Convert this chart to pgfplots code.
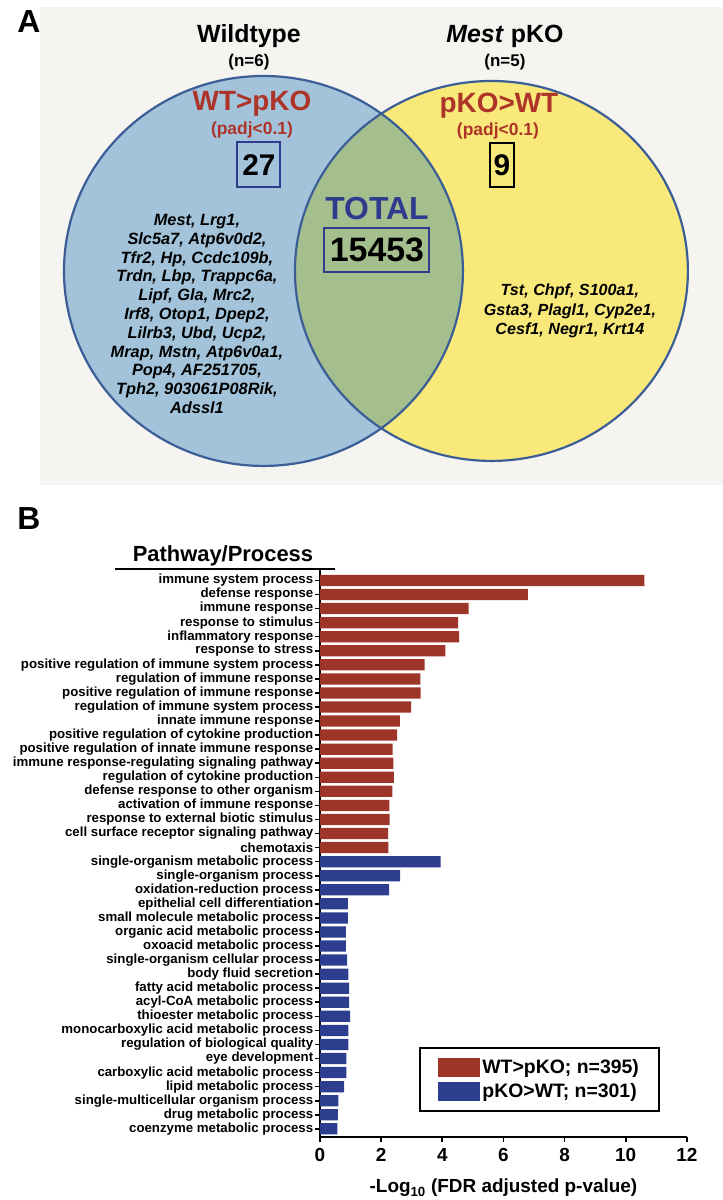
\documentclass[border=0pt]{standalone}
\usepackage{pgfplots}
\pgfplotsset{compat=1.18}
\usepackage{fontspec}
\setmainfont{Liberation Sans}
\definecolor{bgA}{HTML}{F5F4F0}
\definecolor{venBlue}{HTML}{A2C3D9}
\definecolor{venYel}{HTML}{F8E97A}
\definecolor{venGreen}{HTML}{A4BE8E}
\definecolor{venLine}{HTML}{3B5E96}
\definecolor{txtRed}{HTML}{AE3429}
\definecolor{txtBlue}{HTML}{2F3C8E}
\definecolor{barRed}{HTML}{9E3529}
\definecolor{barBlue}{HTML}{2E3E8F}
\newcommand{\fs}[1]{\fontsize{#1}{#1}\selectfont}
\newcommand{\fsb}[2]{\fontsize{#1}{#2}\selectfont}
\begin{document}
\begin{tikzpicture}
\begin{scope}[x=1bp,y=-1bp]
\path[use as bounding box] (0,0) rectangle (723,1200);
\fill[bgA] (40,7) rectangle (723,485);
\fill[venBlue] (263.5,271) ellipse [x radius=199.5bp, y radius=195bp];
\fill[venYel] (491.5,271) ellipse [x radius=196.5bp, y radius=190bp];
\begin{scope}
\clip (263.5,271) ellipse [x radius=199.5bp, y radius=195bp];
\fill[venGreen] (491.5,271) ellipse [x radius=196.5bp, y radius=190bp];
\end{scope}
\draw[venLine, line width=2.2bp] (263.5,271) ellipse [x radius=199.5bp, y radius=195bp];
\draw[venLine, line width=2.2bp] (491.5,271) ellipse [x radius=196.5bp, y radius=190bp];
\node[font=\bfseries\fs{32}] at (29,22) {A};
\node[font=\bfseries\fs{25}] at (249,36) {Wildtype};
\node[font=\bfseries\fs{17}] at (249,62) {(n=6)};
\node[font=\bfseries\fs{25}] at (505,36) {\textit{Mest} pKO};
\node[font=\bfseries\fs{17}] at (505,62) {(n=5)};
\node[font=\bfseries\fs{28}, text=txtRed] at (252,104) {WT>pKO};
\node[font=\bfseries\fs{17.5}, text=txtRed] at (252,130) {(padj<0.1)};
\node[draw=txtBlue, line width=2bp, minimum width=43bp, minimum height=45bp, inner sep=0pt, font=\bfseries\fs{30}] at (259,165) {27};
\node[font=\bfseries\fs{28}, text=txtRed] at (499,106) {pKO>WT};
\node[font=\bfseries\fs{17.5}, text=txtRed] at (498,131) {(padj<0.1)};
\node[draw=black, line width=2bp, minimum width=24bp, minimum height=44bp, inner sep=0pt, font=\bfseries\fs{30}] at (502,165) {9};
\node[font=\bfseries\fs{32}, text=txtBlue] at (377,209) {TOTAL};
\node[draw=txtBlue, line width=2bp, minimum width=105bp, minimum height=44bp, inner sep=0pt, font=\bfseries\fs{34}] at (377,250) {15453};
\node[font=\bfseries\itshape\fsb{16.4}{18.9}, align=center, inner sep=0pt, anchor=center] at (197,314)
{Mest, Lrg1,\\ Slc5a7, Atp6v0d2,\\ Tfr2, Hp, Ccdc109b,\\ Trdn, Lbp, Trappc6a,\\ Lipf, Gla, Mrc2,\\ Irf8, Otop1, Dpep2,\\ Lilrb3, Ubd, Ucp2,\\ Mrap, Mstn, Atp6v0a1,\\ Pop4, AF251705,\\ Tph2, 903061P08Rik,\\ Adssl1};
\node[font=\bfseries\itshape\fsb{16.2}{19.5}, align=center, inner sep=0pt, anchor=center] at (570,311)
{Tst, Chpf, S100a1,\\ Gsta3, Plagl1, Cyp2e1,\\ Cesf1, Negr1, Krt14};
\node[font=\bfseries\fs{32}] at (29,519) {B};
\node[font=\bfseries\fs{22}] at (223,556) {Pathway/Process};
\draw[line width=2bp] (115,569) -- (335,569);
\end{scope}
\begin{axis}[
  at={(320bp,-1137bp)}, anchor=south west,
  scale only axis, width=367bp, height=568bp,
  xmin=0, xmax=12, ymin=-0.57, ymax=39.82,
  axis x line*=bottom, axis y line*=left,
  axis line style={-, line width=2bp, black},
  xtick={0,2,...,12},
  ytick={0,...,39},
  tick align=outside, tick pos=left,
  major tick length=5bp,
  tick style={line width=1.6bp, black},
  /pgf/number format/assume math mode=true,
  xticklabel style={font=\bfseries\fs{19}, yshift=-3bp},
  yticklabel style={font=\bfseries\fs{13.3}, inner sep=1.5bp},
  yticklabels={coenzyme metabolic process, drug metabolic process, single-multicellular organism process, lipid metabolic process, carboxylic acid metabolic process, eye development, regulation of biological quality, monocarboxylic acid metabolic process, thioester metabolic process, acyl-CoA metabolic process, fatty acid metabolic process, body fluid secretion, single-organism cellular process, oxoacid metabolic process, organic acid metabolic process, small molecule metabolic process, epithelial cell differentiation, oxidation-reduction process, single-organism process, single-organism metabolic process, chemotaxis, cell surface receptor signaling pathway, response to external biotic stimulus, activation of immune response, defense response to other organism, regulation of cytokine production, immune response-regulating signaling pathway, positive regulation of innate immune response, positive regulation of cytokine production, innate immune response, regulation of immune system process, positive regulation of immune response, regulation of immune response, positive regulation of immune system process, response to stress, inflammatory response, response to stimulus, immune response, defense response, immune system process},
  xlabel={-Log\textsubscript{10} (FDR adjusted p-value)},
  xlabel style={font=\bfseries\fs{19}, at={(axis description cs:0.5,0)}, anchor=center, yshift=-51bp},
  legend style={at={(0.9264,0.044)}, anchor=south east, draw=black, line width=2bp,
    font=\bfseries\fs{19.5}, inner xsep=18bp, inner ysep=10bp, row sep=4bp, cells={anchor=west}},
  legend image code/.code={\fill[#1] (0bp,-9.5bp) rectangle (42bp,9.5bp);},
]
\addplot[xbar, bar width=0.8, bar shift=0pt, fill=barRed, draw=none] coordinates {
(10.61,39) (6.80,38) (4.86,37) (4.52,36) (4.55,35) (4.10,34) (3.42,33) (3.28,32) (3.29,31) (2.98,30)
(2.61,29) (2.52,28) (2.38,27) (2.40,26) (2.42,25) (2.37,24) (2.27,23) (2.28,22) (2.23,21) (2.24,20)};
\addlegendentry{WT>pKO; n=395)}
\addplot[xbar, bar width=0.8, bar shift=0pt, fill=barBlue, draw=none] coordinates {
(3.95,19) (2.62,18) (2.26,17) (0.91,16) (0.91,15) (0.85,14) (0.85,13) (0.89,12) (0.93,11) (0.95,10)
(0.95,9) (0.99,8) (0.93,7) (0.93,6) (0.86,5) (0.86,4) (0.79,3) (0.60,2) (0.59,1) (0.57,0)};
\addlegendentry{pKO>WT; n=301)}
\end{axis}
\end{tikzpicture}
\end{document}
